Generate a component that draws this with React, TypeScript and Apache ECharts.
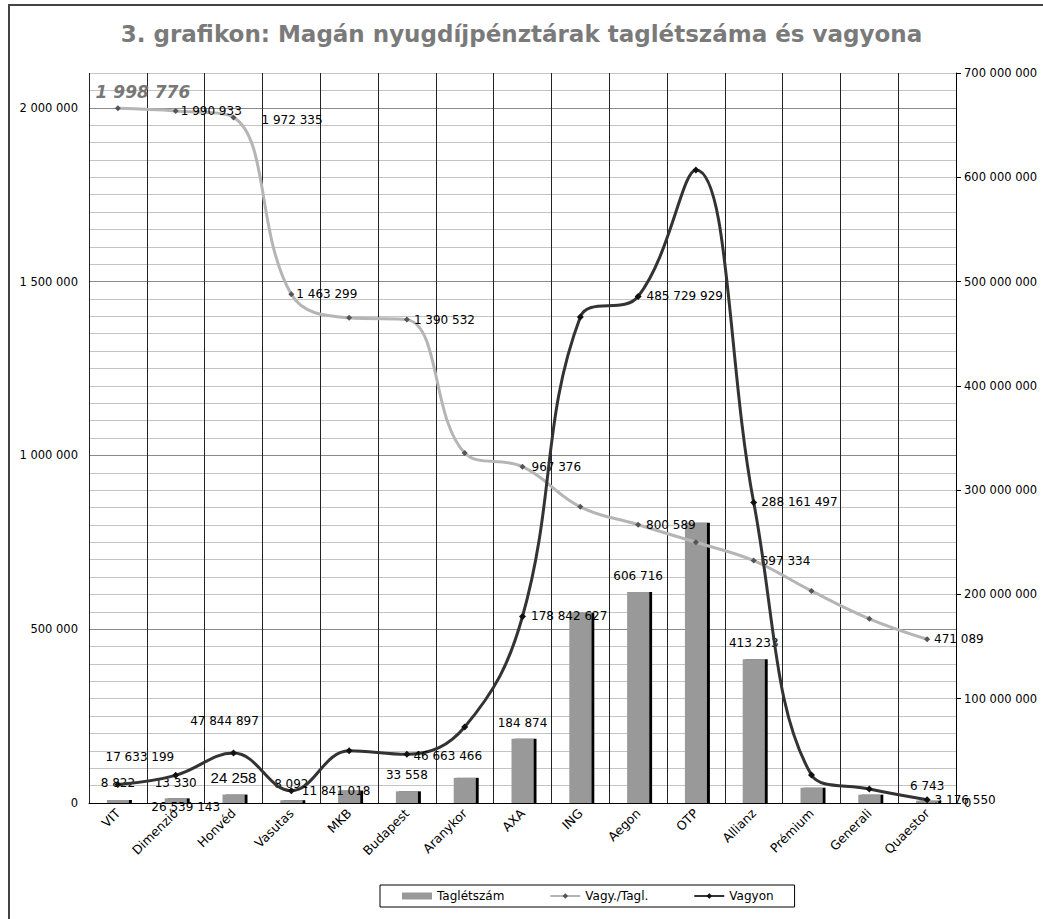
import React, { useEffect, useRef } from 'react';
import * as echarts from 'echarts';

const categories = ['VIT', 'Dimenzió', 'Honvéd', 'Vasutas', 'MKB', 'Budapest', 'Aranykor', 'AXA', 'ING', 'Aegon', 'OTP', 'Allianz', 'Prémium', 'Generali', 'Quaestor'];
const members = [8822, 13330, 24258, 8092, 35900, 33558, 72400, 184874, 547000, 606716, 806000, 413233, 44000, 24000, 6743];
const perMember = [1998776, 1990933, 1972335, 1463299, 1395700, 1390532, 1007000, 967376, 852000, 800589, 750000, 697334, 610000, 530000, 471089];
const assets = [17633199, 26539143, 47844897, 11841018, 50100000, 46663466, 72900000, 178842627, 466000000, 485729929, 607000000, 288161497, 26800000, 13400000, 3176550];

const leftTickValues = [0, 500000, 1000000, 1500000, 2000000];
const rightTickValues = [0, 100000000, 200000000, 300000000, 400000000, 500000000, 600000000, 700000000];

const TITLE = '3. grafikon: Magán nyugdíjpénztárak taglétszáma és vagyona';
const FONT = 'DejaVu Sans';

const fmt = (v: number) => String(Math.round(v)).replace(/\B(?=(\d{3})+(?!\d))/g, ' ');

type Lab = { position: string; distance?: number; offset?: number[]; extra?: any } | null;

const memberLabels: Lab[] = [
  { position: 'top', distance: 11 },
  { position: 'top', distance: 9 },
  { position: 'top', distance: 10, extra: { fontSize: 15, fontFamily: 'Liberation Sans' } },
  { position: 'top', distance: 10 },
  null,
  { position: 'top', distance: 10 },
  null,
  { position: 'top', distance: 10 },
  null,
  { position: 'top', distance: 10 },
  null,
  { position: 'top', distance: 10 },
  null,
  null,
  { position: 'top', distance: 9 },
];

const perMemberLabels: Lab[] = [
  { position: 'top', distance: 4, offset: [25, -1], extra: { fontSize: 17, fontWeight: 'bold', fontStyle: 'italic', color: '#777' } },
  { position: 'right', distance: 2 },
  { position: 'right', distance: 25, offset: [0, 3] },
  { position: 'right', distance: 2 },
  null,
  { position: 'right', distance: 4 },
  null,
  { position: 'right', distance: 6 },
  null,
  { position: 'right', distance: 5 },
  null,
  { position: 'right', distance: 4 },
  null,
  null,
  { position: 'right', distance: 4 },
];

const assetLabels: Lab[] = [
  { position: 'top', distance: 18, offset: [22, 0] },
  { position: 'bottom', distance: 22, offset: [10, 0] },
  { position: 'top', distance: 23, offset: [-9, 0] },
  { position: 'right', distance: 7 },
  null,
  { position: 'right', distance: 3, offset: [0, 2] },
  null,
  { position: 'right', distance: 5 },
  null,
  { position: 'right', distance: 5 },
  null,
  { position: 'right', distance: 4 },
  null,
  null,
  { position: 'right', distance: 4 },
];

const withLabels = (values: number[], labels: Lab[]) =>
  values.map((v, i) => {
    const l = labels[i];
    if (!l) return { value: v, label: { show: false } };
    return {
      value: v,
      label: { show: true, position: l.position, distance: l.distance, offset: l.offset, ...(l.extra || {}) },
    };
  });

const baseLabel = {
  show: false,
  color: '#000',
  fontSize: 12,
  fontFamily: FONT,
  formatter: (p: any) => fmt(p.value),
};

const minorColors = ['#8a8a8a', '#c4c4c4', '#c4c4c4', '#c4c4c4', '#c4c4c4', '#c4c4c4', '#c4c4c4', '#c4c4c4', '#c4c4c4', '#c4c4c4'];

export default function App() {
  const ref = useRef<HTMLDivElement>(null);
  useEffect(() => {
    if (!ref.current) return;
    const chart = echarts.init(ref.current, undefined, { renderer: 'svg' });
    chart.setOption({
      animation: false,
      backgroundColor: '#fff',
      title: {
        text: TITLE,
        left: 'center',
        top: 17,
        textStyle: { fontFamily: FONT, fontSize: 23, fontWeight: 'bold', color: '#7a7a7a' },
      },
      graphic: [
        {
          type: 'rect',
          shape: { x: 9, y: 5, width: 1200, height: 1100 },
          style: { fill: 'none', stroke: '#444', lineWidth: 2 },
          silent: true,
        },
      ],
      legend: {
        left: 380,
        top: 885,
        orient: 'horizontal',
        borderColor: '#000',
        borderWidth: 1,
        padding: [5, 21, 5, 22],
        itemGap: 45,
        itemWidth: 30,
        itemHeight: 7,
        textStyle: { fontFamily: FONT, fontSize: 12, color: '#000' },
        data: [{ name: 'Taglétszám', icon: 'rect' }, { name: 'Vagy./Tagl.' }, { name: 'Vagyon' }],
      },
      grid: { left: 89, right: 87, top: 73, bottom: 116, containLabel: false },
      xAxis: {
        type: 'category',
        data: categories,
        boundaryGap: true,
        axisLine: { show: true, lineStyle: { color: '#000', width: 1 } },
        axisTick: { show: false },
        splitLine: { show: true, lineStyle: { color: '#222', width: 1 } },
        axisLabel: { interval: 0, rotate: 45, margin: 8, color: '#000', fontFamily: FONT, fontSize: 12.5 },
      },
      yAxis: [
        {
          type: 'value',
          min: 0,
          max: 2100000,
          interval: 50000,
          axisLine: { show: false },
          axisTick: { show: false },
          axisLabel: {
            margin: 11,
            color: '#000',
            fontFamily: FONT,
            fontSize: 11.5,
            formatter: (v: number) => (leftTickValues.includes(v) ? fmt(v) : ''),
          },
          splitLine: { show: true, lineStyle: { color: minorColors, width: 1 } },
        },
        {
          type: 'value',
          position: 'right',
          min: 0,
          max: 700000000,
          interval: 100000000,
          axisLine: { show: true, lineStyle: { color: '#000', width: 1 } },
          axisTick: { show: true, length: 5, lineStyle: { color: '#000' } },
          axisLabel: {
            margin: 8,
            color: '#000',
            fontFamily: FONT,
            fontSize: 11.5,
            formatter: (v: number) => (rightTickValues.includes(v) ? fmt(v) : ''),
          },
          splitLine: { show: false },
        },
      ],
      series: [
        {
          name: 'Taglétszám',
          type: 'bar',
          yAxisIndex: 0,
          barWidth: 22,
          itemStyle: { color: '#999999', shadowColor: '#000', shadowOffsetX: 3, shadowOffsetY: 0, shadowBlur: 0 },
          label: baseLabel,
          data: withLabels(members, memberLabels),
          z: 2,
        },
        {
          name: 'Vagy./Tagl.',
          type: 'line',
          yAxisIndex: 0,
          smooth: 0.4,
          symbol: 'diamond',
          symbolSize: 6,
          lineStyle: { color: '#b5b5b5', width: 3 },
          itemStyle: { color: '#555' },
          label: baseLabel,
          data: withLabels(perMember, perMemberLabels),
          z: 3,
        },
        {
          name: 'Vagyon',
          type: 'line',
          yAxisIndex: 1,
          smooth: 0.4,
          symbol: 'diamond',
          symbolSize: 7,
          lineStyle: { color: '#333333', width: 3 },
          itemStyle: { color: '#111' },
          label: baseLabel,
          data: withLabels(assets, assetLabels),
          z: 4,
        },
      ],
    });
    return () => chart.dispose();
  }, []);
  return (
    <div
      ref={ref}
      style={{ position: 'fixed', left: 0, top: 0, width: 1043, height: 919, background: '#fff' }}
    />
  );
}
